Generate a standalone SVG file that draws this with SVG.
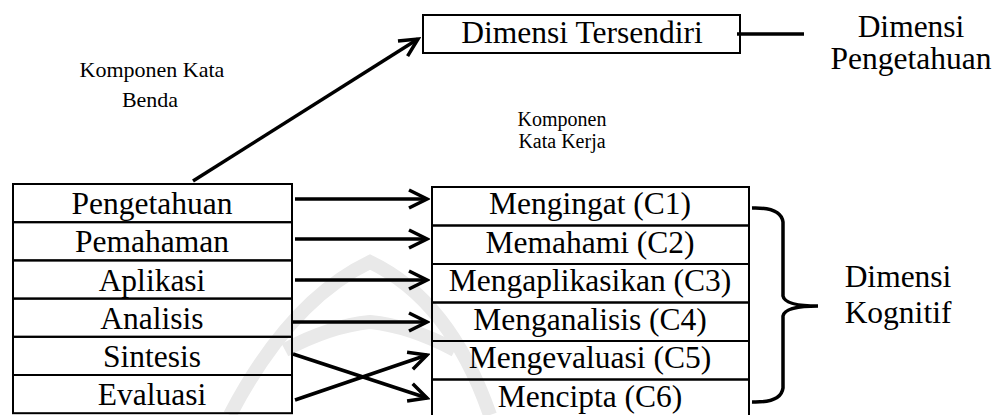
<svg xmlns="http://www.w3.org/2000/svg" width="995" height="415" viewBox="0 0 995 415">
  <style>
    text { font-family: "Liberation Serif", "Times New Roman", Times, serif; fill: #000; text-anchor: middle; }
    .lg { font-size: 31.5px; }
    .sm { font-size: 20px; }
    .md { font-size: 22px; }
    .cell { fill: none; stroke: #000; stroke-width: 2; }
    .conn { fill: none; stroke: #000; stroke-width: 3.5; }
    .arrow { marker-end: url(#open); }
    .mark { fill: none; stroke: #e9e9e9; stroke-width: 14; stroke-linecap: butt; }
  </style>
  <defs>
    <marker id="open" viewBox="0 0 24 24" refX="21" refY="12" markerUnits="userSpaceOnUse" markerWidth="24" markerHeight="24" orient="auto">
      <path d="M3,3 L21,12 L3,21" fill="none" stroke="#000" stroke-width="3.5" stroke-linejoin="miter"/>
    </marker>
  </defs>

  <rect width="995" height="415" fill="#fff"/>

  <!-- faint background emblem -->
  <g id="emblem">
    <path class="mark" d="M230,415 Q290,300 370,262 Q450,300 490,415"/>
    <path class="mark" d="M285,350 Q330,326 370,322 Q410,326 455,350"/>
  </g>

  <!-- captions -->
  <g id="caption-noun">
    <text class="md" x="152" y="77">Komponen Kata</text>
    <text class="md" x="150" y="107">Benda</text>
  </g>
  <g id="caption-verb">
    <text class="sm" x="562" y="126">Komponen</text>
    <text class="sm" x="562" y="148">Kata Kerja</text>
  </g>

  <!-- knowledge dimension -->
  <g id="dimensi-tersendiri">
    <rect class="cell" x="423" y="15" width="317" height="38"/>
    <text class="lg" x="582" y="43">Dimensi Tersendiri</text>
  </g>
  <g id="label-pengetahuan">
    <text class="lg" x="911" y="37">Dimensi</text>
    <text class="lg" x="911" y="69">Pengetahuan</text>
  </g>

  <!-- noun column (original taxonomy) -->
  <g id="pengetahuan">
    <rect class="cell" x="13" y="184" width="279" height="38.2"/>
    <text class="lg" x="152" y="214">Pengetahuan</text>
  </g>
  <g id="pemahaman">
    <rect class="cell" x="13" y="222.2" width="279" height="38.2"/>
    <text class="lg" x="152" y="252">Pemahaman</text>
  </g>
  <g id="aplikasi">
    <rect class="cell" x="13" y="260.4" width="279" height="38.2"/>
    <text class="lg" x="152" y="290.5">Aplikasi</text>
  </g>
  <g id="analisis">
    <rect class="cell" x="13" y="298.6" width="279" height="38.2"/>
    <text class="lg" x="152" y="328.5">Analisis</text>
  </g>
  <g id="sintesis">
    <rect class="cell" x="13" y="336.8" width="279" height="38.2"/>
    <text class="lg" x="152" y="367">Sintesis</text>
  </g>
  <g id="evaluasi">
    <rect class="cell" x="13" y="375" width="279" height="38.2"/>
    <text class="lg" x="152" y="405">Evaluasi</text>
  </g>

  <!-- verb column (revised taxonomy) -->
  <g id="c1">
    <rect class="cell" x="432" y="187" width="317" height="38.5"/>
    <text class="lg" x="590" y="214">Mengingat (C1)</text>
  </g>
  <g id="c2">
    <rect class="cell" x="432" y="225.5" width="317" height="38.5"/>
    <text class="lg" x="590" y="252.5">Memahami (C2)</text>
  </g>
  <g id="c3">
    <rect class="cell" x="432" y="264" width="317" height="38.5"/>
    <text class="lg" x="590" y="291">Mengaplikasikan (C3)</text>
  </g>
  <g id="c4">
    <rect class="cell" x="432" y="302.5" width="317" height="38.5"/>
    <text class="lg" x="590" y="329.5">Menganalisis (C4)</text>
  </g>
  <g id="c5">
    <rect class="cell" x="432" y="341" width="317" height="38.5"/>
    <text class="lg" x="590" y="368">Mengevaluasi (C5)</text>
  </g>
  <g id="c6">
    <rect class="cell" x="432" y="379.5" width="317" height="38.5"/>
    <text class="lg" x="590" y="406.5">Mencipta (C6)</text>
  </g>

  <g id="label-kognitif">
    <text class="lg" x="898" y="287">Dimensi</text>
    <text class="lg" x="898" y="323">Kognitif</text>
  </g>

  <!-- connectors -->
  <g id="connectors">
    <path class="conn arrow" d="M193,181 L418,39"/>
    <path class="conn" d="M737,34 L804,34" stroke-width="4"/>
    <path class="conn arrow" d="M295,199 L427,199"/>
    <path class="conn arrow" d="M295,239 L427,239"/>
    <path class="conn arrow" d="M295,280 L427,280"/>
    <path class="conn arrow" d="M293,322 L427,322"/>
    <path class="conn arrow" d="M293,354 L427,398"/>
    <path class="conn arrow" d="M295,400 L427,355"/>
    <path class="conn" d="M752,208 Q781,207 783,222 L783,296 Q785,306 818,306 Q785,306 783,316 L783,388 Q781,403 752,402"/>
  </g>
</svg>
